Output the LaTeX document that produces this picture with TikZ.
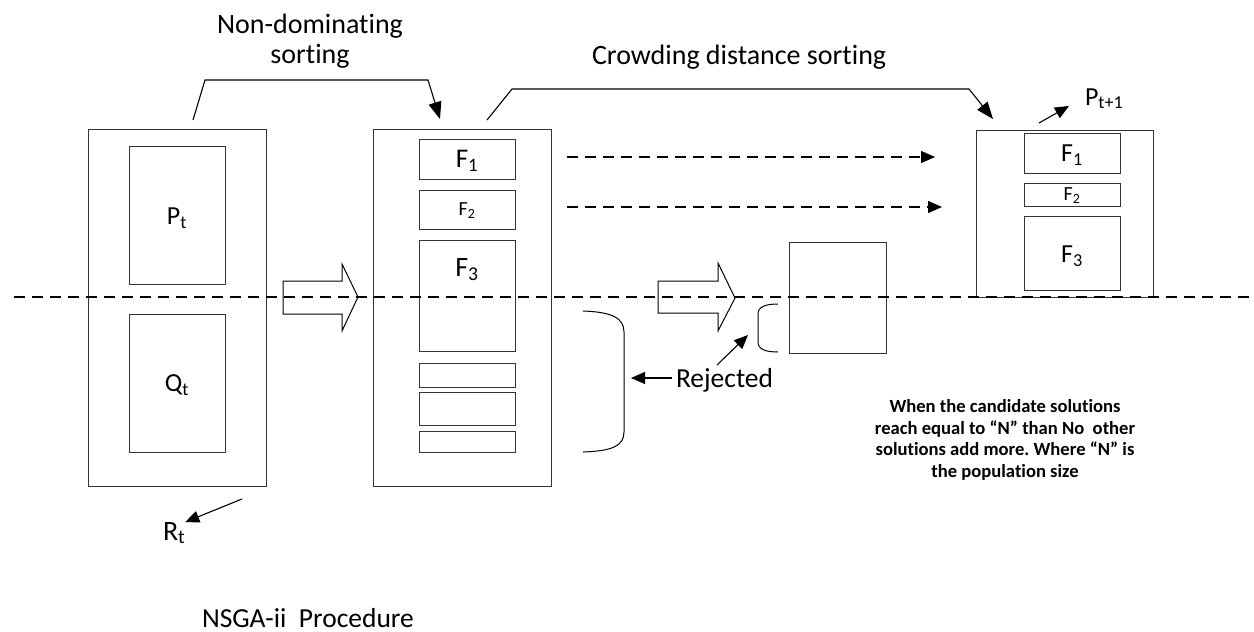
\documentclass[tikz,border=0pt]{standalone}
\usepackage{fontspec}
\setmainfont{Carlito}[Ligatures={NoCommon,NoContextual}]
\usetikzlibrary{arrows.meta}
\newcommand\fsz[1]{\fontsize{#1}{#1}\selectfont}
\frenchspacing

\begin{document}
\begin{tikzpicture}[x=1pt,y=-1pt,
  frame/.style={draw=black!80, line width=1pt, inner sep=0pt, outer sep=0pt, anchor=north west},
  lbl/.style={inner sep=0pt, outer sep=0pt, text=black},
  conn/.style={draw=black, line width=1.1pt},
  bighead/.style={-{Triangle[length=17pt,width=13pt]}},
  head/.style={-{Triangle[length=14pt,width=12pt]}},
  dashline/.style={draw=black, line width=1.4pt, dash pattern=on 11pt off 7pt},
  hollow/.style={draw=black, line width=1pt, line join=miter}]
\useasboundingbox (0,0) rectangle (1254,632);

% population R_t = P_t + Q_t
\node[frame, minimum width=178pt, minimum height=357pt] (R) at (88,129) {};
\node[frame, minimum width=96pt, minimum height=138pt] (P) at (129,146) {};
\node[frame, minimum width=96pt, minimum height=138pt] (Q) at (129,314) {};
\node[lbl, font=\fsz{26}] (Plbl) at (177,218) {P\textsubscript{t}};
\node[lbl, font=\fsz{26}] (Qlbl) at (177,385) {Q\textsubscript{t}};

% sorted fronts
\node[frame, minimum width=178pt, minimum height=357pt] (S) at (373,129) {};
\node[frame, minimum width=96pt, minimum height=40pt] (F1a) at (419,139) {};
\node[frame, minimum width=96pt, minimum height=39pt] (F2a) at (419,190) {};
\node[frame, minimum width=96pt, minimum height=111pt] (F3a) at (419,240) {};
\node[frame, minimum width=96pt, minimum height=24pt] (G1) at (419,363) {};
\node[frame, minimum width=96pt, minimum height=33pt] (G2) at (419,392) {};
\node[frame, minimum width=96pt, minimum height=21pt] (G3) at (419,431) {};
\node[lbl, font=\fsz{27}] (F1alb) at (467,161) {F\textsubscript{1}};
\node[lbl, font=\fsz{20}] (F2alb) at (467,211) {F\textsubscript{2}};
\node[lbl, font=\fsz{28}, anchor=base] (F3alb) at (467,276) {F\textsubscript{3}};

% partially accepted front
\node[frame, minimum width=97pt, minimum height=111pt] (M) at (789,242) {};

% new population
\node[frame, minimum width=177pt, minimum height=167pt] (N) at (976,130) {};
\node[frame, minimum width=96pt, minimum height=40pt] (F1b) at (1024,133) {};
\node[frame, minimum width=96pt, minimum height=23pt] (F2b) at (1024,183) {};
\node[frame, minimum width=96pt, minimum height=74pt] (F3b) at (1024,216) {};
\node[lbl, font=\fsz{26}] (F1blb) at (1072,155) {F\textsubscript{1}};
\node[lbl, font=\fsz{20}] (F2blb) at (1072,196) {F\textsubscript{2}};
\node[lbl, font=\fsz{26}] (F3blb) at (1072,256) {F\textsubscript{3}};

% cut line
\coordinate (cutL) at (14,297);
\coordinate (cutR) at (1254,297);
\draw[dashline] (cutL) -- (cutR);

% hollow transfer arrows
\draw[hollow] (283,281) -- (342,281) -- (342,264) -- (358,297) -- (342,331) -- (342,314) -- (283,314) -- cycle;
\draw[hollow] (658,281) -- (718,281) -- (718,263) -- (735,298) -- (718,331) -- (718,313) -- (658,313) -- cycle;

% brackets
\draw[conn, line width=1pt] (583,311) .. controls (612,312) and (624,318) .. (624,332) -- (624,432)
  .. controls (624,446) and (612,451) .. (583,452);
\draw[conn, line width=1pt] (778,304) .. controls (765,304) and (758,307) .. (758,314) -- (758,342)
  .. controls (758,349) and (765,352) .. (778,352);

% sorting connectors
\coordinate (nd0) at (193,120);
\coordinate (nd1) at (205,80);
\coordinate (nd2) at (428,80);
\coordinate (nd3) at (440,119);
\draw[conn, bighead] (nd0) -- (nd1) -- (nd2) -- (nd3);
\coordinate (cd0) at (487,120);
\coordinate (cd1) at (512,89);
\coordinate (cd2) at (969,89);
\coordinate (cd3) at (993,119);
\draw[conn, bighead] (cd0) -- (cd1) -- (cd2) -- (cd3);

% copied fronts
\coordinate (d1s) at (567,157);
\coordinate (d1e) at (935,157);
\coordinate (d2s) at (567,207);
\coordinate (d2e) at (942,207);
\draw[dashline, head] (d1s) -- (d1e);
\draw[dashline, head] (d2s) -- (d2e);

% titles
\node[lbl, font=\fsz{28}, anchor=base] (t1) at (310,33) {Non-dominating};
\node[lbl, font=\fsz{28}, anchor=base] (t2) at (310,63) {sorting};
\node[lbl, font=\fsz{28}, anchor=base west] (t3) at (592,64) {Crowding distance sorting};

% P_{t+1}
\node[lbl, font=\fsz{26}, anchor=base west] (Pn) at (1085,105) {P\textsubscript{t+1}};
\coordinate (pa0) at (1039,123);
\coordinate (pa1) at (1069,106);
\draw[conn, head] (pa0) -- (pa1);

% R_t
\node[lbl, font=\fsz{28}, anchor=base west] (Rt) at (163,540) {R\textsubscript{t}};
\coordinate (ra0) at (242,499);
\draw[conn, head] (ra0) -- (Rt.north east);

% rejected
\node[lbl, font=\fsz{27.5}, anchor=base west] (rej) at (676,387) {Rejected};
\coordinate (rj0) at (672,378);
\coordinate (rj1) at (631,378);
\draw[conn, head] (rj0) -- (rj1);
\coordinate (sb0) at (717,365);
\coordinate (sb1) at (748,335);
\draw[conn, head] (sb0) -- (sb1);

% note
\node[lbl, font=\bfseries\fsz{18.6}, align=center] (note) at (1005,440)
  {When the candidate solutions\\[2.8pt]reach equal to “N” than No\ \ other\\[2.8pt]solutions add more. Where “N” is\\[2.8pt]the population size};

% caption
\node[lbl, font=\fsz{27.5}, anchor=base west] (cap) at (202,627) {NSGA-ii\ \ Procedure};
\end{tikzpicture}
\end{document}
